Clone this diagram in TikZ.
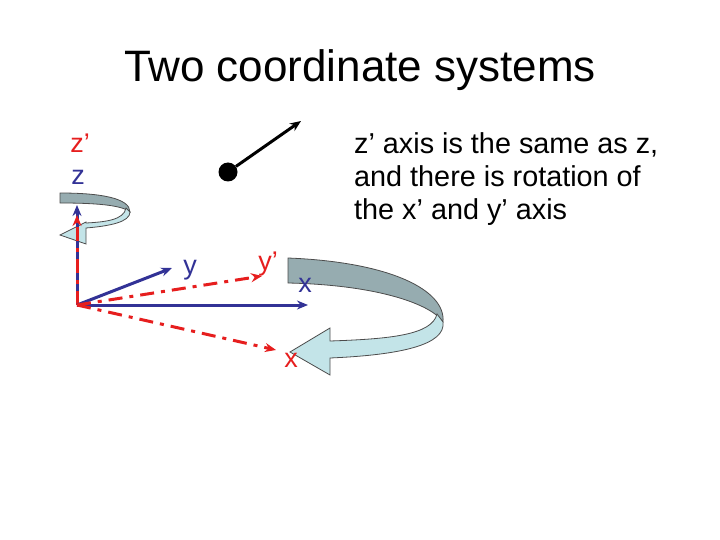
\documentclass[tikz,border=0pt]{standalone}
\usepackage{fontspec}
\setmainfont{Liberation Sans}
\usetikzlibrary{arrows.meta}
\definecolor{ax}{RGB}{50,50,150}
\definecolor{rd}{RGB}{230,30,30}
\definecolor{dk}{RGB}{150,172,176}
\definecolor{lt}{RGB}{195,228,232}
\tikzset{blueax/.style={ax,line width=3pt,-{Stealth[length=11pt,width=9pt]}},
 redax/.style={rd,line width=3pt,dash pattern=on 14pt off 7pt on 4pt off 7pt,-{Stealth[length=11pt,width=9pt]}},
 band/.style={draw=black!70,line width=0.8pt},
 bl/.style={ax,font=\fontsize{27}{29}\selectfont,inner sep=0pt},
 rl/.style={rd,font=\fontsize{27}{29}\selectfont,inner sep=0pt}}
\begin{document}
\begin{tikzpicture}[x=1pt,y=-1pt]
\useasboundingbox (0,0) rectangle (720,540);
\node[font=\fontsize{44}{46}\selectfont] (title) at (360,70) {Two coordinate systems};
\node[align=left,anchor=north west,font=\fontsize{28.8}{33}\selectfont,inner sep=0pt] (txt) at (354,132) {z’ axis is the same as z,\\and there is rotation of\\the x’ and y’ axis};
% small rotation arrow
\fill[band,fill=dk] (60,193) .. controls (100,193) and (130,198) .. (130,212) .. controls (122,205) and (95,203) .. (60,203) -- cycle;
\fill[band,fill=lt] (130,212) .. controls (130,222) and (110,226) .. (86,228) -- (86,244) -- (60,235) -- (86,222) -- (86,223) .. controls (105,222) and (124,220) .. (126,208) -- cycle;
% origin and axes
\coordinate (o) at (77,305);
\coordinate (zb) at (77,205);
\coordinate (zr) at (77,215);
\coordinate (yb) at (172,268);
\coordinate (yr) at (262,276);
\coordinate (xb) at (308,305);
\coordinate (xr) at (276,350);
\draw[blueax] (o) -- (zb);
\draw[redax] (o) -- (zr);
\draw[blueax] (o) -- (yb);
\draw[blueax] (o) -- (xb);
\draw[redax] (o) -- (yr);
\draw[redax] (o) -- (xr);
% big rotation arrow
\fill[band,fill=dk] (288,258) .. controls (390,262) and (446,290) .. (443,322) .. controls (432,305) and (380,285) .. (288,283) -- cycle;
\fill[band,fill=lt] (443,322) .. controls (446,345) and (400,355) .. (330,358) -- (330,375) -- (290,352) -- (330,328) -- (330,341) .. controls (390,339) and (432,335) .. (437,314) -- cycle;
% labels
\node[rl] (zp) at (80,143) {z’};
\node[bl] (z) at (78,177) {z};
\node[bl] (y) at (190,270) {y};
\node[rl] (ypl) at (268,264) {y’};
\node[bl] (x) at (305,285) {x};
\node[rl] (xl) at (291,360) {x};
% dot and arrow
\node[circle,fill=black,minimum size=19pt,inner sep=0pt] (dot) at (228,172) {};
\coordinate (tip) at (301,121);
\draw[line width=3pt,-{Stealth[length=11pt,width=9pt]}] (dot) -- (tip);
\end{tikzpicture}
\end{document}
